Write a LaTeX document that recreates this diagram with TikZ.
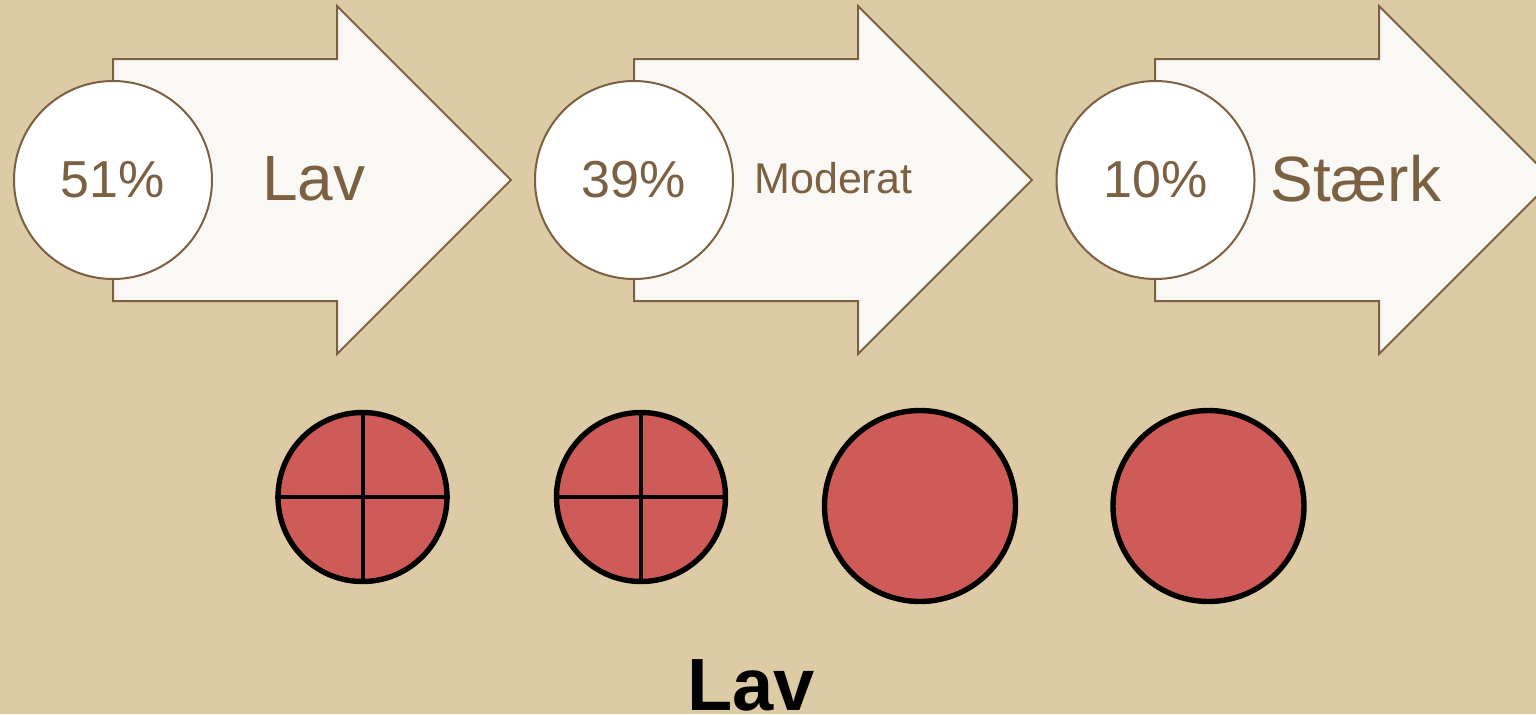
\documentclass[tikz,border=0pt]{standalone}
\usepackage{fontspec}
\setmainfont{Liberation Sans}
\definecolor{bg}{HTML}{DCCBA4}
\definecolor{brn}{HTML}{7B6042}
\definecolor{arrfill}{HTML}{F9F8F4}
\definecolor{dotred}{HTML}{CF5B59}
\tikzset{
  arrowshape/.style={draw=brn, fill=arrfill, line width=1pt, line join=miter},
  pctcirc/.style={circle, draw=brn, fill=white, line width=1pt, minimum size=99pt, inner sep=0pt, text=brn, font=\fontsize{26}{30}\selectfont},
  arrlabel/.style={anchor=base west, inner sep=0pt, text=brn, font=\fontsize{32}{36}\selectfont},
  smalllabel/.style={anchor=base west, inner sep=0pt, text=brn, font=\fontsize{21.5}{24}\selectfont},
  reddot/.style={circle, draw=black, fill=dotred, line width=2.7pt, inner sep=0pt},
  crossline/.style={draw=black, line width=2pt},
  titletext/.style={anchor=base, inner sep=0pt, text=black, font=\bfseries\fontsize{37}{40}\selectfont}
}
\begin{document}
\begin{tikzpicture}[x=0.5pt, y=-0.5pt]
\useasboundingbox (0,0) rectangle (1536,714);
\clip (0,0) rectangle (1536,714);
\fill[bg] (0,0) rectangle (1536,714);
% arrows
\foreach \o in {0,521,1042}{
  \draw[arrowshape] (113+\o,59) -- (337+\o,59) -- (337+\o,6) -- (511+\o,180) -- (337+\o,354) -- (337+\o,301) -- (113+\o,301) -- cycle;
}
\node[pctcirc] (p1) at (113,180) {51\%};
\node[pctcirc] (p2) at (634,180) {39\%};
\node[pctcirc] (p3) at (1155.5,180) {10\%};
\node[arrlabel] (l1) at (262,200) {Lav};
\node[smalllabel] (l2) at (754,193) {Moderat};
\node[arrlabel] (l3) at (1270,201) {Stærk};
% bottom dots
\node[reddot, minimum size=84.5pt] (q1) at (362.5,497) {};
\node[reddot, minimum size=84.5pt] (q2) at (641,497) {};
\node[reddot, minimum size=95.5pt] (q3) at (920,506) {};
\node[reddot, minimum size=95.5pt] (q4) at (1208.5,506) {};
\draw[crossline] (q1.north) -- (q1.south);
\draw[crossline] (q1.west) -- (q1.east);
\draw[crossline] (q2.north) -- (q2.south);
\draw[crossline] (q2.west) -- (q2.east);
\node[titletext] (t) at (751,710) {Lav};
\end{tikzpicture}
\end{document}
